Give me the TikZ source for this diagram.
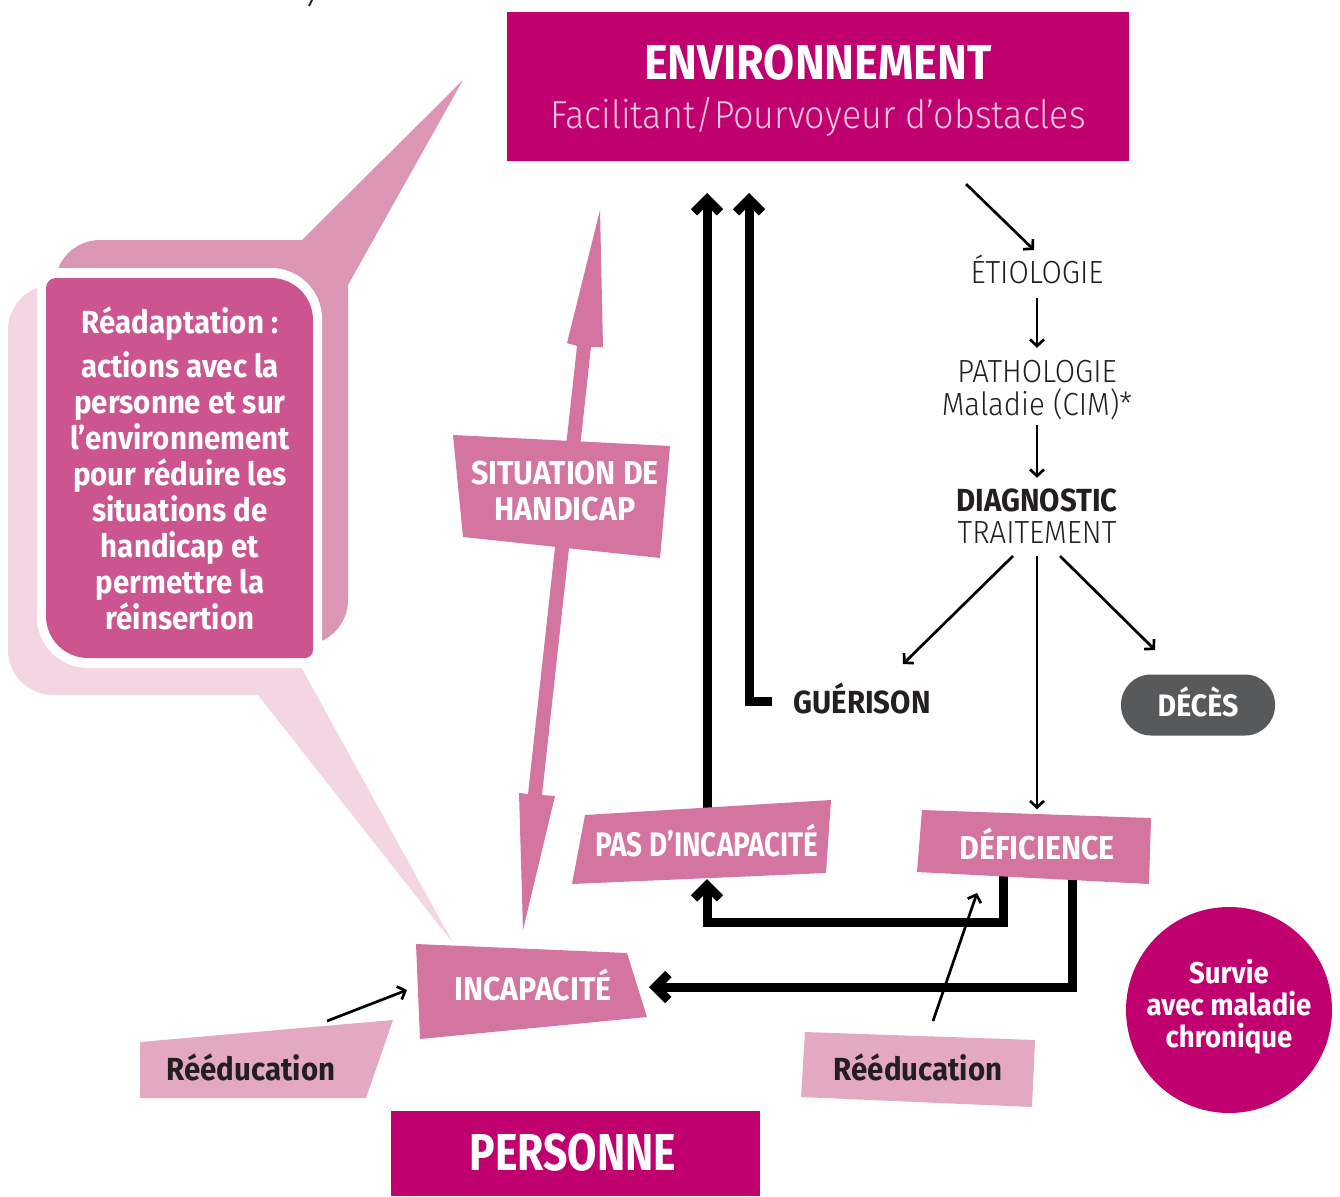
\documentclass[tikz,border=0pt]{standalone}
\usepackage{fontspec}
\setmainfont[FakeStretch=0.92]{Fira Sans}
\newfontfamily\lightf[FakeStretch=0.92]{Fira Sans Light}
\newfontfamily\narrowf[FakeStretch=0.82]{Fira Sans}
\usetikzlibrary{arrows.meta,calc}
\definecolor{cMag}{HTML}{C0006F}
\definecolor{cLab}{HTML}{D375A0}
\definecolor{cBubF}{HTML}{CC558F}
\definecolor{cBubM}{HTML}{DC96B5}
\definecolor{cBubL}{HTML}{F4D5E2}
\definecolor{cReed}{HTML}{E3A9C3}
\definecolor{cGray}{HTML}{58595B}
\definecolor{cText}{HTML}{231F20}
\definecolor{cFac}{HTML}{F5C6DC}
\pgfdeclarelayer{back}
\pgfdeclarelayer{mid}
\pgfsetlayers{back,mid,main}
\tikzset{
  every node/.style={inner sep=0pt},
  labtxt/.style={text=white, font=\bfseries\fontsize{33}{36}\selectfont, align=center},
  captxt/.style={text height=#1, text depth=0pt},
  chaintxt/.style={text=cText, font=\lightf\fontsize{32}{36}\selectfont, text height=22pt, text depth=0pt},
  thinarr/.style={draw=black, line width=2.7pt, -{Straight Barb[length=6.5pt,width=14pt]}},
  thickarr/.style={draw=black, line width=9pt, line join=miter, -{Straight Barb[length=13pt,width=26pt]}},
}
\begin{document}
\begin{tikzpicture}[x=1pt,y=-1pt]
\useasboundingbox (0,0) rectangle (1340,1196);

% ---------- speech bubble ----------
\begin{pgfonlayer}{back}
\fill[cBubL] (53,285) -- (300,285) -- (300,665) -- (453,943) -- (258,695) -- (53,695)
  arc[start angle=90,end angle=180,radius=45] -- (8,330)
  arc[start angle=180,end angle=270,radius=45] -- cycle;
\fill[cBubM] (100,240) -- (302,240) -- (463,80) -- (348,285) -- (348,600)
  arc[start angle=0,end angle=90,radius=45] -- (55,645) -- (55,285)
  arc[start angle=180,end angle=270,radius=45] -- cycle;
\fill[white] (55,268) -- (271,268) arc[start angle=-90,end angle=0,radius=51] -- (322,651)
  arc[start angle=0,end angle=90,radius=17] -- (88,668)
  arc[start angle=90,end angle=180,radius=51] -- (37,286)
  arc[start angle=180,end angle=270,radius=18] -- cycle;
\fill[cBubF] (56,278) -- (271,278) arc[start angle=-90,end angle=0,radius=42] -- (313,650)
  arc[start angle=0,end angle=90,radius=8] -- (88,658)
  arc[start angle=90,end angle=180,radius=42] -- (46,288)
  arc[start angle=180,end angle=270,radius=10] -- cycle;
% pink double arrow
\fill[cLab] (600,210) -- (603,347) -- (591,347) -- (542,795) -- (555,796) -- (523,930)
  -- (519,793) -- (528,794) -- (577,346) -- (567,343) -- cycle;
\end{pgfonlayer}

% stray mark at top
\draw[line width=2pt, cText] (312,0) -- (309,6);

\node[text=white, font=\bfseries\fontsize{32}{36}\selectfont, align=center] (reada) at (180,468)
  {Réadaptation :\\[8pt]actions avec la\\personne et sur\\l’environnement\\pour réduire les\\situations de\\handicap et\\permettre la\\réinsertion};

% ---------- main boxes ----------
\node[fill=cMag, minimum width=622pt, minimum height=149pt] (env) at (818,86.5) {};
\node[text=white, font=\bfseries\fontsize{49}{55}\selectfont, captxt=34pt] (envt) at (818,63) {ENVIRONNEMENT};
\node[text=cFac, font=\lightf\fontsize{39}{44}\selectfont, captxt=27pt] (envs) at (818,115) {Facilitant/Pourvoyeur d’obstacles};

\node[fill=cMag, minimum width=369pt, minimum height=85pt] (pers) at (575.5,1153.5) {};
\node[text=white, font=\narrowf\bfseries\fontsize{52}{56}\selectfont, captxt=36pt] (perst) at (573,1152) {PERSONNE};

% ---------- labels (quadrilaterals) ----------
\fill[cLab] (453,435) -- (670,446) -- (660,558) -- (463,537) -- cycle;
\node[labtxt] (sit) at (565,491) {SITUATION DE\\HANDICAP};

\fill[cLab] (585,815) -- (831,800) -- (826,873) -- (572,884) -- cycle;
\node[labtxt, font=\narrowf\bfseries\fontsize{34}{36}\selectfont, captxt=23pt] (pas) at (707,845) {PAS D’INCAPACITÉ};

\fill[cLab] (922,810) -- (1151,818) -- (1149,884) -- (917,872) -- cycle;
\node[labtxt, captxt=23pt] (def) at (1037,848) {DÉFICIENCE};

\fill[cLab] (416,944) -- (627,953) -- (647,1017) -- (420,1039) -- cycle;
\node[labtxt, captxt=23pt] (inc) at (533,989) {INCAPACITÉ};

\fill[cReed] (140,1042) -- (393,1020) -- (366,1098) -- (140,1098) -- cycle;
\node[text=cText, font=\bfseries\fontsize{32}{36}\selectfont, captxt=22pt] (ree1) at (251,1069) {Rééducation};

\fill[cReed] (805,1032) -- (1035,1040) -- (1032,1107) -- (801,1097) -- cycle;
\node[text=cText, font=\bfseries\fontsize{32}{36}\selectfont, captxt=22pt] (ree2) at (918,1069) {Rééducation};

% ---------- medical chain ----------
\node[chaintxt] (etio) at (1037,272) {ÉTIOLOGIE};
\node[chaintxt] (pat1) at (1037,371) {PATHOLOGIE};
\node[chaintxt] (pat2) at (1037,404) {Maladie (CIM)*};
\node[chaintxt, font=\bfseries\fontsize{32}{36}\selectfont] (dia1) at (1037,500) {DIAGNOSTIC};
\node[chaintxt] (dia2) at (1037,532) {TRAITEMENT};
\node[text=cText, font=\bfseries\fontsize{32}{36}\selectfont, captxt=22pt] (guer) at (862,702) {GUÉRISON};
\node[fill=cGray, rounded corners=30pt, minimum width=154pt, minimum height=61pt] (deces) at (1198,705) {};
\node[text=white, font=\bfseries\fontsize{31}{36}\selectfont, captxt=21pt] (decest) at (1198,706) {DÉCÈS};

\node[circle, fill=cMag, minimum size=206pt] (surv) at (1229,1010) {};
\node[text=white, font=\bfseries\fontsize{30}{32}\selectfont, align=center] (survt) at (1229,1007) {Survie\\avec maladie\\chronique};

% ---------- connectors ----------
\coordinate (envOut) at (966,184);
\coordinate (etioIn) at (1034,250);
\coordinate (brL) at (1013,556);
\coordinate (brR) at (1060,556);
\coordinate (guerTip) at (903,664);
\coordinate (decTip) at (1155,650);
\coordinate (r1s) at (327,1021);
\coordinate (r1e) at (407,990);
\coordinate (r2s) at (933,1021);
\coordinate (r2e) at (977,893);
\coordinate (envA) at (707,193);
\coordinate (envB) at (749,193);
\coordinate (guerL) at (772,701);
\coordinate (defA) at (1003,860);
\coordinate (defB) at (1072,860);
\coordinate (pasB) at (707,879);
\coordinate (incB) at (649,987);

\begin{pgfonlayer}{mid}
\draw[thinarr] (envOut) -- (etioIn);
\draw[thinarr, shorten <=15pt, shorten >=12pt] (etio.south) -- (pat1.north);
\draw[thinarr, shorten <=10pt, shorten >=11pt] (pat2.south) -- (dia1.north);
\draw[thinarr, shorten <=13pt, shorten >=27pt] (dia2.south) -- (def.north);
\draw[thinarr] (brL) -- (guerTip);
\draw[thinarr] (brR) -- (decTip);
\draw[thinarr] (r1s) -- (r1e);
\draw[thinarr] (r2s) -- (r2e);
\draw[thickarr] (pas.center) -- (envA);
\draw[thickarr] (guerL) -| (envB);
\draw[thickarr] (defA) -- ++(0,62) -| (pasB);
\draw[thickarr] (defB) |- (incB);
\end{pgfonlayer}
\end{tikzpicture}
\end{document}
